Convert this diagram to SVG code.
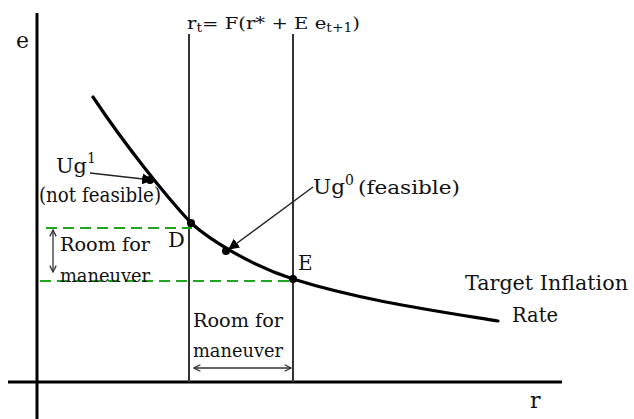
<svg xmlns="http://www.w3.org/2000/svg" width="634" height="419" viewBox="0 0 634 419">
<defs>
<style>
text{font-family:"DejaVu Serif","Liberation Serif",serif;fill:#111;}
.axis{stroke:#000;stroke-width:3;fill:none;}
.vline{stroke:#333;stroke-width:2;fill:none;}
.curve{stroke:#000;stroke-width:3.2;fill:none;stroke-linecap:round;}
.dash{stroke:#1fa51f;stroke-width:2;stroke-dasharray:11 6;fill:none;}
.ptr{stroke:#222;stroke-width:1.4;fill:none;}
.dbl{stroke:#333;stroke-width:1.3;fill:none;}
</style>
<marker id="fill" viewBox="0 0 10 10" refX="9" refY="5" markerWidth="11" markerHeight="11" markerUnits="userSpaceOnUse" orient="auto">
<path d="M0,0 L10,5 L0,10 z" fill="#000"/>
</marker>
<marker id="chev" viewBox="0 0 10 10" refX="9" refY="5" markerWidth="8" markerHeight="8" markerUnits="userSpaceOnUse" orient="auto-start-reverse">
<path d="M1,1 L9,5 L1,9" fill="none" stroke="#333" stroke-width="1.6"/>
</marker>
</defs>

<g id="axes">
<line class="axis" x1="37" y1="13" x2="37" y2="419"/>
<line class="axis" x1="8" y1="382" x2="562" y2="382"/>
<text x="16" y="48" font-size="22">e</text>
<text x="530" y="408" font-size="22">r</text>
</g>

<g id="bounds">
<line class="vline" x1="189" y1="34" x2="189" y2="382"/>
<line class="vline" x1="293" y1="34" x2="293" y2="382"/>
<text x="187" y="29" font-size="17" textLength="173" lengthAdjust="spacingAndGlyphs">r<tspan font-size="12" dy="3">t</tspan><tspan dy="-3">= F(r* + E e</tspan><tspan font-size="12" dy="3">t+1</tspan><tspan dy="-3">)</tspan></text>
</g>

<g id="room-lines">
<line class="dash" x1="46" y1="228" x2="192" y2="228"/>
<line class="dash" x1="40" y1="281" x2="293" y2="281"/>
</g>

<g id="curve">
<path class="curve" d="M93,97 C125,145 165,195 191,223 C210,240 250,265 293,279 C360,300 430,310 498,321"/>
<circle cx="150" cy="180" r="4"/>
<circle cx="191" cy="223" r="4"/>
<circle cx="226" cy="251" r="4"/>
<circle cx="293" cy="279" r="4"/>
<text x="465" y="290" font-size="20" textLength="163" lengthAdjust="spacingAndGlyphs">Target Inflation</text>
<text x="512" y="322" font-size="20" textLength="46" lengthAdjust="spacingAndGlyphs">Rate</text>
</g>

<g id="point-D">
<text x="168" y="247" font-size="21">D</text>
</g>
<g id="point-E">
<text x="298" y="270" font-size="20">E</text>
</g>

<g id="connectors">
<line class="ptr" x1="90" y1="173" x2="152" y2="180" marker-end="url(#fill)"/>
<line class="ptr" x1="313" y1="187" x2="229" y2="249" marker-end="url(#fill)"/>
<line class="dbl" x1="53" y1="230" x2="53" y2="272" marker-start="url(#chev)" marker-end="url(#chev)"/>
<line class="dbl" x1="194" y1="368" x2="291" y2="368" marker-start="url(#chev)" marker-end="url(#chev)"/>
</g>

<g id="ug1">
<text x="56" y="173" font-size="21" textLength="31" lengthAdjust="spacingAndGlyphs">Ug</text>
<text x="87" y="163" font-size="14">1</text>
<text x="39" y="202" font-size="20" textLength="122" lengthAdjust="spacingAndGlyphs">(not feasible)</text>
</g>

<g id="ug0">
<text x="313" y="194" font-size="21" textLength="32" lengthAdjust="spacingAndGlyphs">Ug</text>
<text x="345" y="185" font-size="14">0</text>
<text x="358" y="194" font-size="18" textLength="102" lengthAdjust="spacingAndGlyphs">(feasible)</text>
</g>

<g id="room-left">
<text x="60" y="251" font-size="18" textLength="90" lengthAdjust="spacingAndGlyphs">Room for</text>
<text x="60" y="282" font-size="18" textLength="90" lengthAdjust="spacingAndGlyphs">maneuver</text>
</g>

<g id="room-bottom">
<text x="193" y="327" font-size="18" textLength="90" lengthAdjust="spacingAndGlyphs">Room for</text>
<text x="193" y="357" font-size="18" textLength="90" lengthAdjust="spacingAndGlyphs">maneuver</text>
</g>
</svg>
